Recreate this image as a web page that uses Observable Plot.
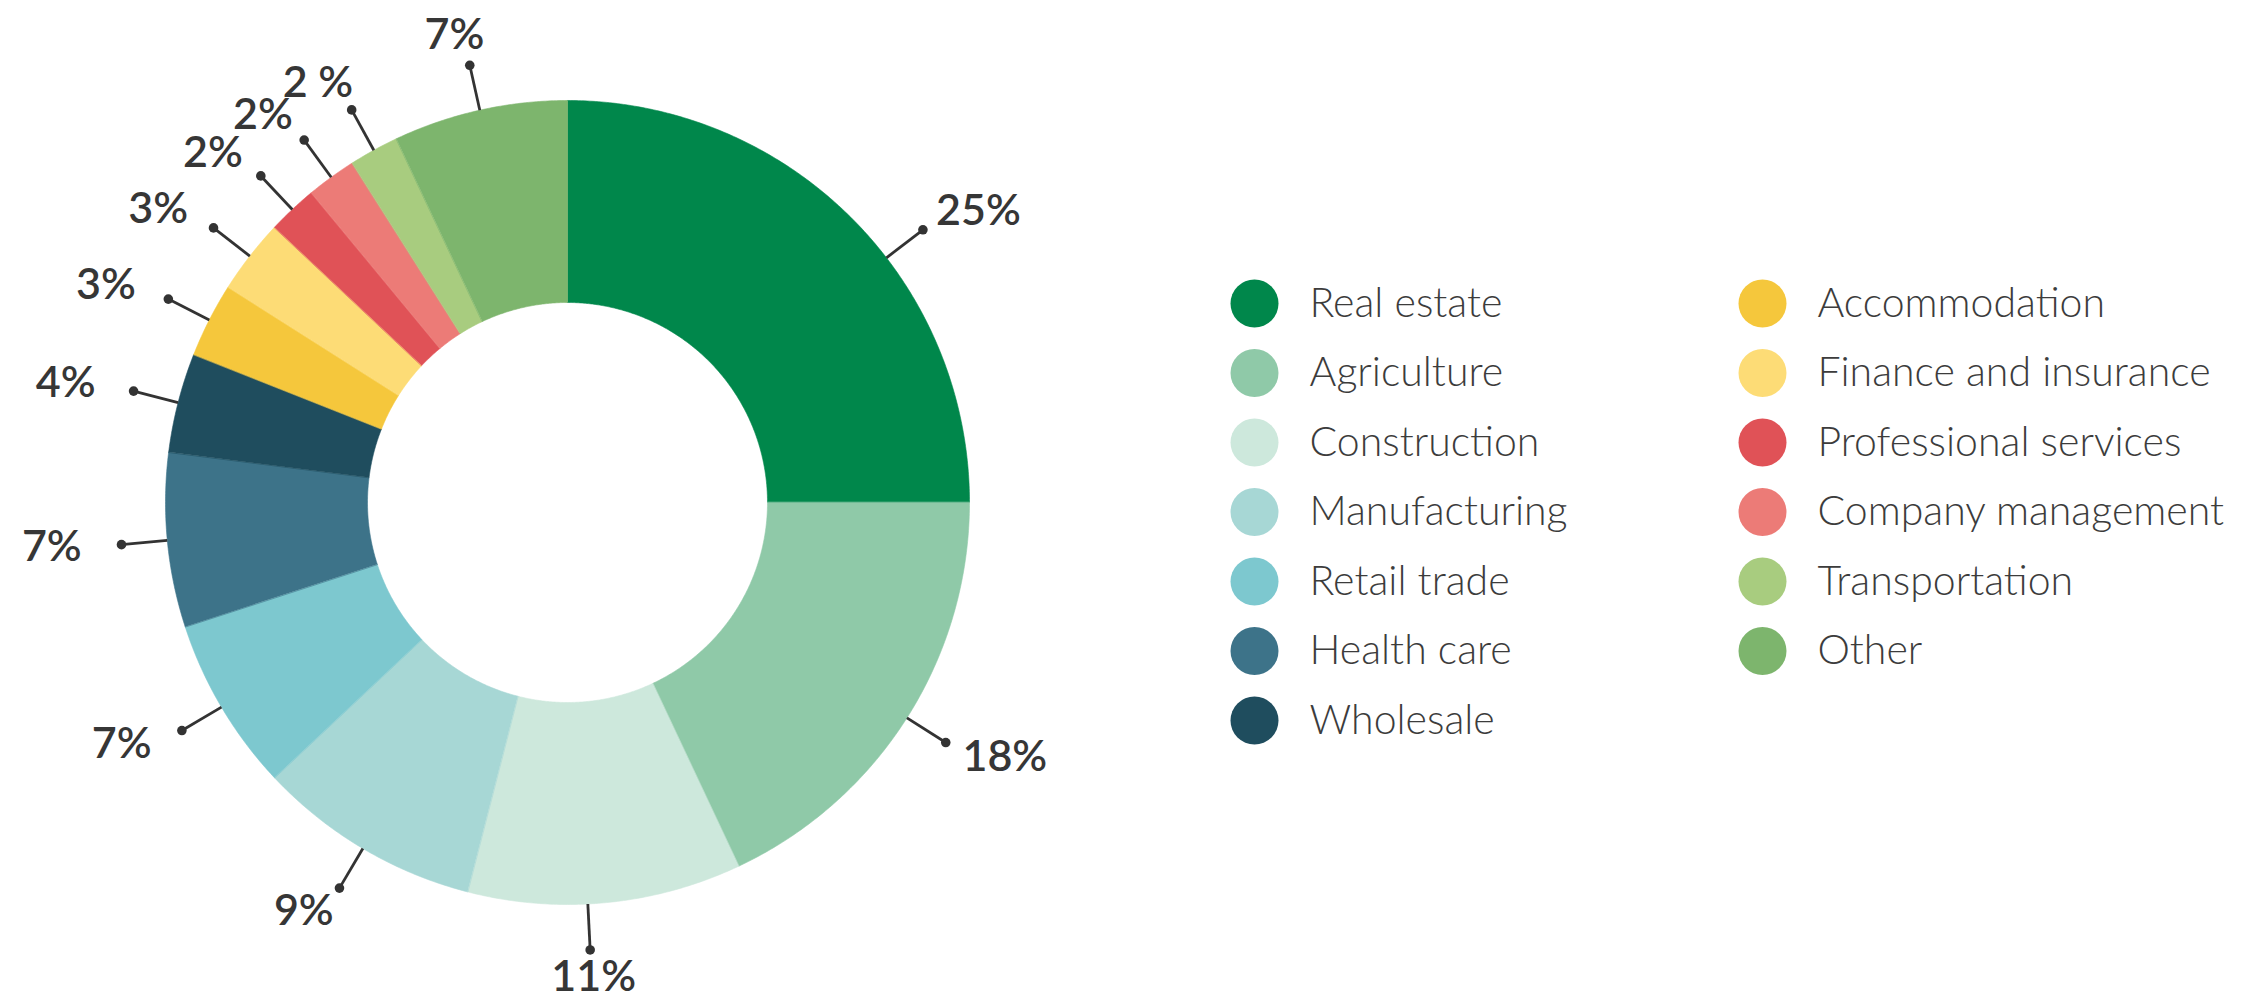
<!DOCTYPE html>
<html><head><meta charset="utf-8">
<script src="https://cdn.jsdelivr.net/npm/d3@7"></script>
<script src="https://cdn.jsdelivr.net/npm/@observablehq/plot@0.6"></script>
<style>html,body{margin:0;padding:0;background:#fff;overflow:hidden;}</style>
</head><body><div id="chart"></div>
<script>
// ---- data ----
const categories = ["Real estate","Agriculture","Construction","Manufacturing","Retail trade","Health care","Wholesale",
  "Accommodation","Finance and insurance","Professional services","Company management","Transportation","Other"];
const shares = [25,18,11,9,7,7,4,3,3,2,2,2,7];
const labels = ["25%","18%","11%","9%","7%","7%","4%","3%","3%","2%","2%","2 %","7%"];
const colors = ["#00874b","#8fc9a8","#cde8dc","#a7d7d5","#7dc8cf","#3d7389","#1f4d5e",
  "#f5c73c","#fddc76","#e05257","#ec7b77","#a8cc7f","#7db56d"];

// ---- layout ----
const W = 2243, H = 1001;
const cx = 567, cy = 502, R = 402, R0 = 200, Rdot = 448;
const labelNudgeDeg = {"Real estate": 7.5, "Construction": 2.5};
const legendX = [1254, 1762], legendY0 = 303, legendStep = 69.5, legendRows = 7, legendTextDx = 55;

const total = d3.sum(shares);
const rad = Math.PI / 180;
const px = (r, a) => cx + r * Math.sin(a * rad);
const py = (r, a) => cy - r * Math.cos(a * rad);

// slice polygons
const arcPts = [];
const labelData = [];
let acc = 0;
categories.forEach((cat, i) => {
  const a0 = acc / total * 360, a1 = (acc + shares[i]) / total * 360;
  acc += shares[i];
  const n = Math.max(4, Math.ceil((a1 - a0) / 0.4));
  for (let k = 0; k <= n; k++) { const a = a0 + (a1 - a0) * k / n; arcPts.push({cat, x: px(R, a), y: py(R, a)}); }
  for (let k = n; k >= 0; k--) { const a = a0 + (a1 - a0) * k / n; arcPts.push({cat, x: px(R0, a), y: py(R0, a)}); }
  const m = (a0 + a1) / 2 + (labelNudgeDeg[cat] || 0);
  const dx = px(Rdot, m), dy = py(Rdot, m);
  const c = Math.cos(m * rad);
  labelData.push({cat, label: labels[i], x1: px(R, m), y1: py(R, m), x2: dx, y2: dy,
    tx: dx + 70 * Math.sin(m * rad), ty: dy - (c < 0 ? 27 : 31) * c});
});

const legendData = categories.map((cat, i) => ({
  cat, x: legendX[Math.floor(i / legendRows)], y: legendY0 + (i % legendRows) * legendStep
}));

const chart = Plot.plot({
  width: W, height: H, margin: 0,
  style: {background: "#fff"},
  x: {domain: [0, W], range: [0, W], axis: null},
  y: {domain: [0, H], range: [0, H], axis: null},
  color: {domain: categories, range: colors},
  marks: [
    Plot.line(arcPts, {x: "x", y: "y", z: "cat", fill: "cat", stroke: "cat", strokeWidth: 0.6, curve: "linear-closed"}),
    Plot.link(labelData, {x1: "x1", y1: "y1", x2: "x2", y2: "y2", stroke: "#333", strokeWidth: 2.8}),
    Plot.dot(labelData, {x: "x2", y: "y2", r: 4.8, fill: "#333", stroke: "none"}),
    Plot.text(labelData, {x: "tx", y: "ty", text: "label", fill: "#363636", fontSize: 43, fontWeight: 600,
      fontFamily: "Lato", textAnchor: "middle", lineAnchor: "middle"}),
    Plot.dot(legendData, {x: "x", y: "y", r: 24, fill: "cat", stroke: "none"}),
    Plot.text(legendData, {x: d => d.x + legendTextDx, y: "y", text: "cat", fill: "#3c3c3c", fontSize: 41, fontWeight: 300,
      fontFamily: "Lato", textAnchor: "start", lineAnchor: "middle"})
  ]
});
document.getElementById("chart").appendChild(chart);
</script></body></html>
